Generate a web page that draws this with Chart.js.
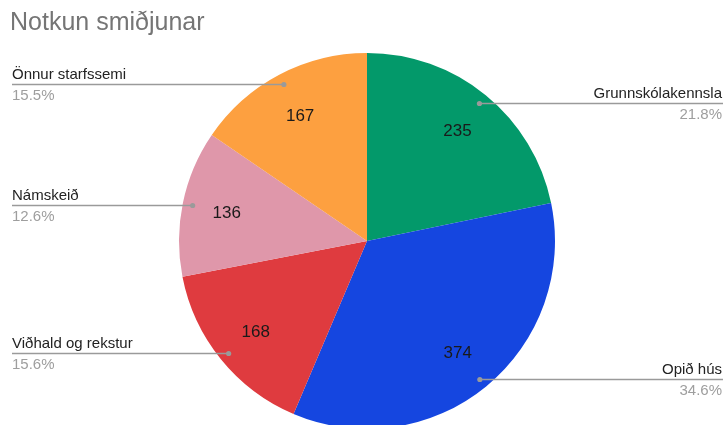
<!DOCTYPE html>
<html>
<head>
<meta charset="utf-8">
<script src="https://cdn.jsdelivr.net/npm/chart.js@4/dist/chart.umd.min.js"></script>
<style>
  body { margin: 0; background: #fff; }
  #wrap { width: 724px; height: 425px; overflow: hidden; position: relative; }
</style>
</head>
<body>
<div id="wrap"><canvas id="myChart" width="724" height="440"></canvas></div>
<script>
const categories = ["Grunnskólakennsla", "Opið hús", "Viðhald og rekstur", "Námskeið", "Önnur starfssemi"];
const values = [235, 374, 168, 136, 167];
const colors = ["#03996a", "#1546e0", "#df3b3f", "#df97aa", "#fda040"];
const chartTitle = "Notkun smiðjunar";

const total = values.reduce((a, b) => a + b, 0);
const font = "'Liberation Sans', Arial, sans-serif";

// leader lines, outside labels, values inside the slices and the title
const pieLabels = {
  id: "pieLabels",
  afterDraw(chart) {
    const ctx = chart.ctx;
    const meta = chart.getDatasetMeta(0);
    ctx.save();
    ctx.fillStyle = "#757575";
    ctx.font = "25px " + font;
    ctx.textAlign = "left";
    ctx.textBaseline = "middle";
    ctx.fillText(chartTitle, 10, 23);

    meta.data.forEach((arc, i) => {
      const mid = (arc.startAngle + arc.endAngle) / 2;
      const R = arc.outerRadius;
      const cos = Math.cos(mid), sin = Math.sin(mid);

      // value inside
      ctx.fillStyle = "#1a1a1a";
      ctx.font = "17px " + font;
      ctx.textAlign = "center";
      ctx.fillText(values[i], arc.x + cos * R * 0.762, arc.y + sin * R * 0.762 + 1.5);

      // leader line
      const dx = arc.x + cos * R * 0.947;
      const dy = Math.round(arc.y + sin * R * 0.947) + 0.5;
      const right = dx > arc.x;
      const edge = right ? 723 : 12;
      ctx.strokeStyle = "#9a9a9a";
      ctx.lineWidth = 1.3;
      ctx.beginPath();
      ctx.moveTo(dx, dy);
      ctx.lineTo(edge, dy);
      ctx.stroke();
      ctx.fillStyle = "#9a9a9a";
      ctx.beginPath();
      ctx.arc(dx, dy, 2.6, 0, Math.PI * 2);
      ctx.fill();

      ctx.textAlign = right ? "right" : "left";
      const tx = right ? 722 : 12;
      ctx.fillStyle = "#222";
      ctx.font = "15px " + font;
      ctx.fillText(categories[i], tx, dy - 10);
      ctx.fillStyle = "#9e9e9e";
      ctx.fillText((values[i] / total * 100).toFixed(1) + "%", tx, dy + 11);
    });
    ctx.restore();
  }
};

new Chart(document.getElementById("myChart"), {
  type: "pie",
  data: {
    labels: categories,
    datasets: [{
      data: values,
      backgroundColor: colors,
      borderWidth: 0
    }]
  },
  options: {
    responsive: false,
    animation: false,
    layout: { padding: { top: 53, bottom: 11, left: 179, right: 169 } },
    plugins: {
      legend: { display: false },
      tooltip: { enabled: false },
      title: { display: false }
    }
  },
  plugins: [pieLabels]
});
</script>
</body>
</html>
